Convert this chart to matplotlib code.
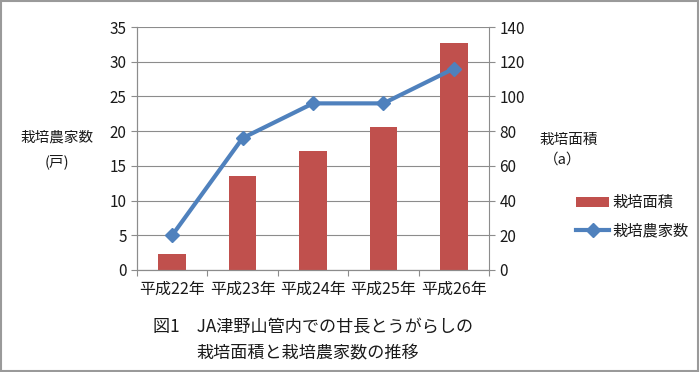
import matplotlib
matplotlib.use("Agg")
import matplotlib.pyplot as plt
import numpy as np
from matplotlib.patches import Rectangle

plt.rcParams['font.family'] = ['Noto Sans CJK JP', 'DejaVu Sans']

categories = ["平成22年", "平成23年", "平成24年", "平成25年", "平成26年"]
area = [9.2, 54.3, 68.5, 82.5, 130.5]        # 栽培面積 (a), right axis
farmers = [5, 19, 24, 24, 29]                # 栽培農家数 (戸), left axis

fig = plt.figure(figsize=(7, 3.72), dpi=100)
ax = fig.add_axes([137/700, 1-270/372, (489-137)/700, (270-27)/372])
ax2 = ax.twinx()

x = np.arange(len(categories))
bar_color = "#C0504D"
line_color = "#4F81BD"
grid_color = "#8c8c8c"
text_color = "#1a1a1a"

bars = ax2.bar(x, area, width=0.39, color=bar_color, zorder=2, label="栽培面積")
ax2.set_ylim(0, 140)
ax2.set_yticks(np.arange(0, 141, 20))
ax2.yaxis.grid(True, color=grid_color, linewidth=0.8, zorder=0)
ax2.set_axisbelow(True)

line, = ax.plot(x, farmers, color=line_color, linewidth=3, marker="D", markersize=7,
                zorder=3, label="栽培農家数")
ax.set_ylim(0, 35)
ax.set_yticks(np.arange(0, 36, 5))
ax.set_zorder(ax2.get_zorder() + 1)
ax.patch.set_visible(False)

ax.set_xlim(-0.5, len(categories) - 0.5)
ax.set_xticks(np.arange(len(categories) + 1) - 0.5)
ax.set_xticklabels([])
ax.set_xticks(x, minor=True)
ax.set_xticklabels(categories, minor=True, fontsize=11.5, color=text_color)
ax.tick_params(axis="x", which="major", length=4, color=grid_color)
ax.tick_params(axis="x", which="minor", length=0, pad=8)

for a in (ax, ax2):
    for s in a.spines.values():
        s.set_color(grid_color)
    a.spines["top"].set_visible(False)
    a.tick_params(axis="y", length=4, color=grid_color, labelsize=11, labelcolor=text_color)

ax.spines["right"].set_visible(False)

fig.text(57/700, 1-138/372, "栽培農家数", fontsize=10.5, ha="center", va="center", color=text_color)
fig.text(57/700, 1-162/372, "(戸)", fontsize=10.5, ha="center", va="center", color=text_color)
fig.text(569/700, 1-140/372, "栽培面積", fontsize=10.5, ha="center", va="center", color=text_color)
fig.text(563/700, 1-160/372, "（a）", fontsize=10.5, ha="center", va="center", color=text_color)

fig.legend([bars, line], ["栽培面積", "栽培農家数"], loc="center left",
           bbox_to_anchor=(562/700, 1-217/372), frameon=False, fontsize=11,
           handlelength=2.2, labelspacing=0.75, handletextpad=0.2,
           labelcolor=text_color)

fig.text(153/700, 1-327/372, "図1　JA津野山管内での甘長とうがらしの", fontsize=12.3,
         ha="left", va="center", color=text_color)
fig.text(196/700, 1-353/372, "栽培面積と栽培農家数の推移", fontsize=12.3,
         ha="left", va="center", color=text_color)

fig.add_artist(Rectangle((0.002, 0.003), 0.995, 0.994, transform=fig.transFigure,
                         fill=False, edgecolor="#9a9a9a", linewidth=1.5))

fig.savefig("out.png", dpi=100)
